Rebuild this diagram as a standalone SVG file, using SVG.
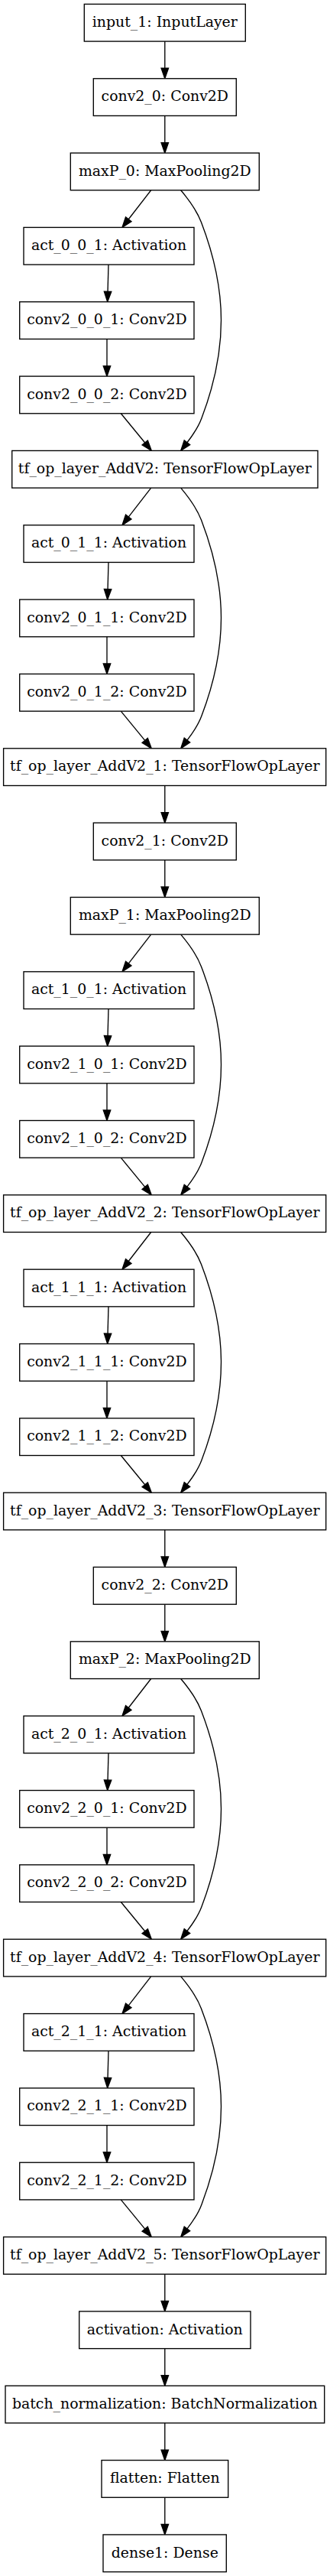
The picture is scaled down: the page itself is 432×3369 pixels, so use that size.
<svg xmlns="http://www.w3.org/2000/svg" width="432" height="3369" viewBox="0 0 432 3369">
<style>
.n rect{fill:#fff;stroke:#000;stroke-width:1.35}
.n text{font-family:"DejaVu Serif",serif;font-size:18.9px;text-anchor:middle;fill:#000}
.e path{fill:none;stroke:#000;stroke-width:1.35;marker-end:url(#ah)}
</style>
<defs>
<marker id="ah" markerUnits="userSpaceOnUse" orient="auto" refX="0" refY="0" markerWidth="16" markerHeight="12" viewBox="-1 -6 16 12" style="overflow:visible">
<path d="M0,-4.7 L13.5,0 L0,4.7 Z" fill="#000" stroke="#000" stroke-width="1.35"/>
</marker>
</defs>
<rect width="432" height="3369" fill="#fff"/>
<g id="edges" class="e">
<path transform="translate(0,54.08)" d="M215.8,0 L215.8,35.17"/>
<path transform="translate(0,151.42)" d="M215.8,0 L215.8,35.17"/>
<path transform="translate(0,1027.47)" d="M215.8,0 L215.8,35.17"/>
<path transform="translate(0,1124.81)" d="M215.8,0 L215.8,35.17"/>
<path transform="translate(0,2000.86)" d="M215.8,0 L215.8,35.17"/>
<path transform="translate(0,2098.20)" d="M215.8,0 L215.8,35.17"/>
<path transform="translate(0,2974.25)" d="M215.8,0 L215.8,35.17"/>
<path transform="translate(0,3071.59)" d="M215.8,0 L215.8,35.17"/>
<path transform="translate(0,3168.93)" d="M215.8,0 L215.8,35.17"/>
<path transform="translate(0,3266.27)" d="M215.8,0 L215.8,35.17"/>
<!-- block 0: maxP_0 -> AddV2 -->
<path transform="translate(0,248.76)" d="M197.7,0 L168.27,37.99"/>
<path transform="translate(0,346.10)" d="M142,0 L141.06,35.17"/>
<path transform="translate(0,443.43)" d="M140,0 L140,35.17"/>
<path transform="translate(0,540.77)" d="M158.3,0 L189.73,38.24"/>
<path transform="translate(0,248.76)" d="M236.7,0 C246,11 257,25 263.5,42 C280,85 289.5,125 289.5,170 C289.5,215 280,256 264,298 C260,309 255,317 244.96,330"/>
<!-- block 1: AddV2 -> AddV2_1 -->
<path transform="translate(0,638.11)" d="M197.7,0 L168.27,37.99"/>
<path transform="translate(0,735.45)" d="M142,0 L141.06,35.17"/>
<path transform="translate(0,832.79)" d="M140,0 L140,35.17"/>
<path transform="translate(0,930.13)" d="M158.3,0 L189.73,38.24"/>
<path transform="translate(0,638.11)" d="M236.7,0 C246,11 257,25 263.5,42 C280,85 289.5,125 289.5,170 C289.5,215 280,256 264,298 C260,309 255,317 244.96,330"/>
<!-- block 2: maxP_1 -> AddV2_2 -->
<path transform="translate(0,1222.15)" d="M197.7,0 L168.27,37.99"/>
<path transform="translate(0,1319.48)" d="M142,0 L141.06,35.17"/>
<path transform="translate(0,1416.82)" d="M140,0 L140,35.17"/>
<path transform="translate(0,1514.16)" d="M158.3,0 L189.73,38.24"/>
<path transform="translate(0,1222.15)" d="M236.7,0 C246,11 257,25 263.5,42 C280,85 289.5,125 289.5,170 C289.5,215 280,256 264,298 C260,309 255,317 244.96,330"/>
<!-- block 3: AddV2_2 -> AddV2_3 -->
<path transform="translate(0,1611.50)" d="M197.7,0 L168.27,37.99"/>
<path transform="translate(0,1708.84)" d="M142,0 L141.06,35.17"/>
<path transform="translate(0,1806.18)" d="M140,0 L140,35.17"/>
<path transform="translate(0,1903.52)" d="M158.3,0 L189.73,38.24"/>
<path transform="translate(0,1611.50)" d="M236.7,0 C246,11 257,25 263.5,42 C280,85 289.5,125 289.5,170 C289.5,215 280,256 264,298 C260,309 255,317 244.96,330"/>
<!-- block 4: maxP_2 -> AddV2_4 -->
<path transform="translate(0,2195.53)" d="M197.7,0 L168.27,37.99"/>
<path transform="translate(0,2292.87)" d="M142,0 L141.06,35.17"/>
<path transform="translate(0,2390.21)" d="M140,0 L140,35.17"/>
<path transform="translate(0,2487.55)" d="M158.3,0 L189.73,38.24"/>
<path transform="translate(0,2195.53)" d="M236.7,0 C246,11 257,25 263.5,42 C280,85 289.5,125 289.5,170 C289.5,215 280,256 264,298 C260,309 255,317 244.96,330"/>
<!-- block 5: AddV2_4 -> AddV2_5 -->
<path transform="translate(0,2584.89)" d="M197.7,0 L168.27,37.99"/>
<path transform="translate(0,2682.23)" d="M142,0 L141.06,35.17"/>
<path transform="translate(0,2779.57)" d="M140,0 L140,35.17"/>
<path transform="translate(0,2876.91)" d="M158.3,0 L189.73,38.24"/>
<path transform="translate(0,2584.89)" d="M236.7,0 C246,11 257,25 263.5,42 C280,85 289.5,125 289.5,170 C289.5,215 280,256 264,298 C260,309 255,317 244.96,330"/>
</g>
<g id="input_1" class="n" transform="translate(0,5.41)"><rect x="110.3" y="0" width="211" height="48.67"/><text x="215.8" y="29.6">input_1: InputLayer</text></g>
<g id="conv2_0" class="n" transform="translate(0,102.75)"><rect x="122.3" y="0" width="187" height="48.67"/><text x="215.8" y="29.6">conv2_0: Conv2D</text></g>
<g id="maxP_0" class="n" transform="translate(0,200.09)"><rect x="92.3" y="0" width="247" height="48.67"/><text x="215.8" y="29.6">maxP_0: MaxPooling2D</text></g>
<g id="act_0_0_1" class="n" transform="translate(0,297.43)"><rect x="31" y="0" width="223" height="48.67"/><text x="142.5" y="29.6">act_0_0_1: Activation</text></g>
<g id="conv2_0_0_1" class="n" transform="translate(0,394.76)"><rect x="25.7" y="0" width="228.3" height="48.67"/><text x="139.85" y="29.6">conv2_0_0_1: Conv2D</text></g>
<g id="conv2_0_0_2" class="n" transform="translate(0,492.10)"><rect x="25.7" y="0" width="228.3" height="48.67"/><text x="139.85" y="29.6">conv2_0_0_2: Conv2D</text></g>
<g id="tf_op_layer_AddV2" class="n" transform="translate(0,589.44)"><rect x="15.7" y="0" width="400.3" height="48.67"/><text x="215.8" y="29.6">tf_op_layer_AddV2: TensorFlowOpLayer</text></g>
<g id="act_0_1_1" class="n" transform="translate(0,686.78)"><rect x="31" y="0" width="223" height="48.67"/><text x="142.5" y="29.6">act_0_1_1: Activation</text></g>
<g id="conv2_0_1_1" class="n" transform="translate(0,784.12)"><rect x="25.7" y="0" width="228.3" height="48.67"/><text x="139.85" y="29.6">conv2_0_1_1: Conv2D</text></g>
<g id="conv2_0_1_2" class="n" transform="translate(0,881.46)"><rect x="25.7" y="0" width="228.3" height="48.67"/><text x="139.85" y="29.6">conv2_0_1_2: Conv2D</text></g>
<g id="tf_op_layer_AddV2_1" class="n" transform="translate(0,978.80)"><rect x="4.6" y="0" width="422.1" height="48.67"/><text x="215.8" y="29.6">tf_op_layer_AddV2_1: TensorFlowOpLayer</text></g>
<g id="conv2_1" class="n" transform="translate(0,1076.14)"><rect x="122.3" y="0" width="187" height="48.67"/><text x="215.8" y="29.6">conv2_1: Conv2D</text></g>
<g id="maxP_1" class="n" transform="translate(0,1173.48)"><rect x="92.3" y="0" width="247" height="48.67"/><text x="215.8" y="29.6">maxP_1: MaxPooling2D</text></g>
<g id="act_1_0_1" class="n" transform="translate(0,1270.81)"><rect x="31" y="0" width="223" height="48.67"/><text x="142.5" y="29.6">act_1_0_1: Activation</text></g>
<g id="conv2_1_0_1" class="n" transform="translate(0,1368.15)"><rect x="25.7" y="0" width="228.3" height="48.67"/><text x="139.85" y="29.6">conv2_1_0_1: Conv2D</text></g>
<g id="conv2_1_0_2" class="n" transform="translate(0,1465.49)"><rect x="25.7" y="0" width="228.3" height="48.67"/><text x="139.85" y="29.6">conv2_1_0_2: Conv2D</text></g>
<g id="tf_op_layer_AddV2_2" class="n" transform="translate(0,1562.83)"><rect x="4.6" y="0" width="422.1" height="48.67"/><text x="215.8" y="29.6">tf_op_layer_AddV2_2: TensorFlowOpLayer</text></g>
<g id="act_1_1_1" class="n" transform="translate(0,1660.17)"><rect x="31" y="0" width="223" height="48.67"/><text x="142.5" y="29.6">act_1_1_1: Activation</text></g>
<g id="conv2_1_1_1" class="n" transform="translate(0,1757.51)"><rect x="25.7" y="0" width="228.3" height="48.67"/><text x="139.85" y="29.6">conv2_1_1_1: Conv2D</text></g>
<g id="conv2_1_1_2" class="n" transform="translate(0,1854.85)"><rect x="25.7" y="0" width="228.3" height="48.67"/><text x="139.85" y="29.6">conv2_1_1_2: Conv2D</text></g>
<g id="tf_op_layer_AddV2_3" class="n" transform="translate(0,1952.19)"><rect x="4.6" y="0" width="422.1" height="48.67"/><text x="215.8" y="29.6">tf_op_layer_AddV2_3: TensorFlowOpLayer</text></g>
<g id="conv2_2" class="n" transform="translate(0,2049.53)"><rect x="122.3" y="0" width="187" height="48.67"/><text x="215.8" y="29.6">conv2_2: Conv2D</text></g>
<g id="maxP_2" class="n" transform="translate(0,2146.86)"><rect x="92.3" y="0" width="247" height="48.67"/><text x="215.8" y="29.6">maxP_2: MaxPooling2D</text></g>
<g id="act_2_0_1" class="n" transform="translate(0,2244.20)"><rect x="31" y="0" width="223" height="48.67"/><text x="142.5" y="29.6">act_2_0_1: Activation</text></g>
<g id="conv2_2_0_1" class="n" transform="translate(0,2341.54)"><rect x="25.7" y="0" width="228.3" height="48.67"/><text x="139.85" y="29.6">conv2_2_0_1: Conv2D</text></g>
<g id="conv2_2_0_2" class="n" transform="translate(0,2438.88)"><rect x="25.7" y="0" width="228.3" height="48.67"/><text x="139.85" y="29.6">conv2_2_0_2: Conv2D</text></g>
<g id="tf_op_layer_AddV2_4" class="n" transform="translate(0,2536.22)"><rect x="4.6" y="0" width="422.1" height="48.67"/><text x="215.8" y="29.6">tf_op_layer_AddV2_4: TensorFlowOpLayer</text></g>
<g id="act_2_1_1" class="n" transform="translate(0,2633.56)"><rect x="31" y="0" width="223" height="48.67"/><text x="142.5" y="29.6">act_2_1_1: Activation</text></g>
<g id="conv2_2_1_1" class="n" transform="translate(0,2730.90)"><rect x="25.7" y="0" width="228.3" height="48.67"/><text x="139.85" y="29.6">conv2_2_1_1: Conv2D</text></g>
<g id="conv2_2_1_2" class="n" transform="translate(0,2828.24)"><rect x="25.7" y="0" width="228.3" height="48.67"/><text x="139.85" y="29.6">conv2_2_1_2: Conv2D</text></g>
<g id="tf_op_layer_AddV2_5" class="n" transform="translate(0,2925.58)"><rect x="4.6" y="0" width="422.1" height="48.67"/><text x="215.8" y="29.6">tf_op_layer_AddV2_5: TensorFlowOpLayer</text></g>
<g id="activation" class="n" transform="translate(0,3022.92)"><rect x="103.7" y="0" width="224.3" height="48.67"/><text x="215.8" y="29.6">activation: Activation</text></g>
<g id="batch_normalization" class="n" transform="translate(0,3120.26)"><rect x="7" y="0" width="417.7" height="48.67"/><text x="215.8" y="29.6">batch_normalization: BatchNormalization</text></g>
<g id="flatten" class="n" transform="translate(0,3217.60)"><rect x="133" y="0" width="165.7" height="48.67"/><text x="215.8" y="29.6">flatten: Flatten</text></g>
<g id="dense1" class="n" transform="translate(0,3314.94)"><rect x="135" y="0" width="161.3" height="48.67"/><text x="215.8" y="29.6">dense1: Dense</text></g>
</svg>
